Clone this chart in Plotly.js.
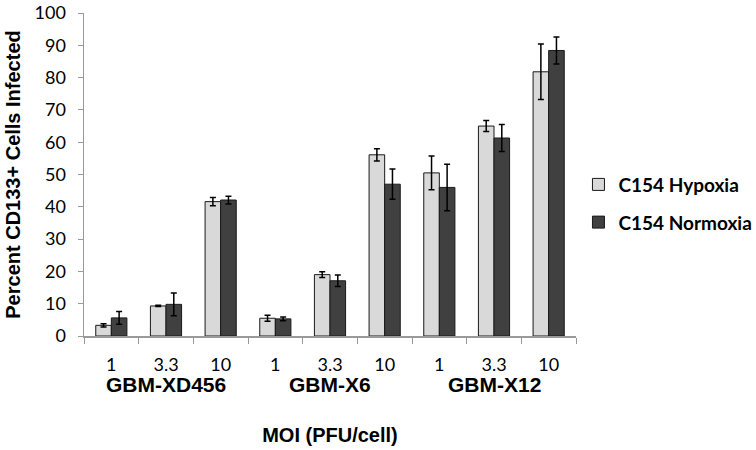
<!DOCTYPE html>
<html><head><meta charset="utf-8">
<script src="https://cdn.plot.ly/plotly-3.0.1.min.js"></script>
<style>body{margin:0;background:#fff}#chart{width:756px;height:450px}</style>
</head><body><div id="chart"></div>
<script>
const groups = ["GBM-XD456", "GBM-X6", "GBM-X12"];
const mois = ["1", "3.3", "10"];
const hypoxia = [3.3, 9.3, 41.6, 5.5, 19.0, 56.1, 50.5, 65.0, 81.8];
const hypoxiaErr = [0.5, 0.2, 1.3, 0.9, 0.9, 1.9, 5.2, 1.7, 8.6];
const normoxia = [5.6, 9.8, 42.1, 5.3, 17.1, 47.0, 46.0, 61.3, 88.4];
const normoxiaErr = [2.0, 3.5, 1.2, 0.6, 1.8, 4.7, 7.2, 4.2, 4.2];
const seriesNames = ["C154 Hypoxia", "C154 Normoxia"];

const cats = [];
const tickText = [];
groups.forEach(g => mois.forEach(m => { cats.push(g + " " + m); tickText.push(m); }));

const mk = (name, y, err, color, grp) => ({
  type: "bar", name: name, x: cats, y: y, legendgroup: grp,
  marker: {color: color, line: {color: "#1a1a1a", width: 1}},
  error_y: {type: "data", array: err, visible: true, color: "#000", thickness: 1.5, width: 3}
});

const boldFont = {family: "Liberation Sans, Arial", size: 21, color: "#000", weight: "bold"};
const annotations = groups.map((g, i) => ({
  text: g, xref: "x", yref: "paper", x: i * 3 + 1, y: -0.149, yanchor: "middle",
  showarrow: false, font: boldFont
}));

Plotly.newPlot("chart", [
  mk(seriesNames[0], hypoxia, hypoxiaErr, "#d9d9d9", "a"),
  mk(seriesNames[1], normoxia, normoxiaErr, "#404040", "b")
], {
  width: 756, height: 450,
  margin: {l: 84, r: 180, t: 13, b: 114, autoexpand: false},
  paper_bgcolor: "#fff", plot_bgcolor: "#fff",
  barmode: "group", bargap: 0.43, bargroupgap: 0,
  font: {family: "Lato, Open Sans, sans-serif", color: "#000"},
  xaxis: {
    type: "category", tickmode: "array", tickvals: cats, ticktext: tickText,
    tickson: "boundaries", ticks: "outside", ticklen: 6, tickcolor: "#999",
    showline: true, linecolor: "#999", linewidth: 1.5, showgrid: false,
    ticklabelstandoff: 12, automargin: false,
    tickfont: {size: 18, family: "Lato, sans-serif"},
    title: {text: "MOI (PFU/cell)", font: {family: "Liberation Sans, Arial", size: 20, weight: "bold"}, standoff: 54}
  },
  yaxis: {
    range: [0, 100], dtick: 10, ticks: "outside", ticklen: 5, tickcolor: "#999",
    showline: true, linecolor: "#999", linewidth: 1.5, showgrid: false, zeroline: false,
    ticklabelstandoff: 8, automargin: false,
    tickfont: {size: 18, family: "Lato, sans-serif"},
    title: {text: "Percent CD133+ Cells Infected", font: {family: "Liberation Sans, Arial", size: 20, weight: "bold"}, standoff: 8}
  },
  legend: {
    x: 1.005, xanchor: "left", y: 0.41, yanchor: "middle",
    traceorder: "grouped", tracegroupgap: 10,
    font: {size: 19, family: "Lato, sans-serif", weight: "bold"}
  },
  annotations: annotations
}, {displayModeBar: false, staticPlot: true});
</script></body></html>
